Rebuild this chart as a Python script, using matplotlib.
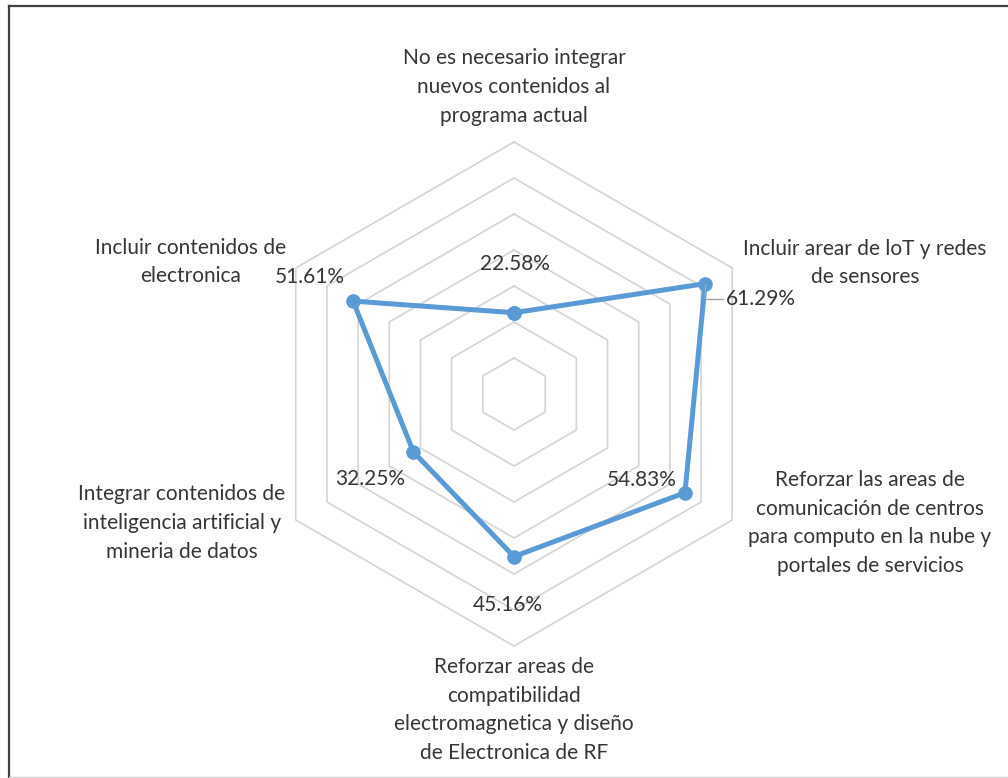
import numpy as np
import matplotlib.pyplot as plt
from matplotlib.lines import Line2D

# datos del grafico
categorias = ['No es necesario integrar\nnuevos contenidos al\nprograma actual',
              'Incluir arear de loT y redes\nde sensores',
              'Reforzar las areas de\ncomunicación de centros\npara computo en la nube y\nportales de servicios',
              'Reforzar areas de\ncompatibilidad\nelectromagnetica y diseño\nde Electronica de RF',
              'Integrar contenidos de\ninteligencia artificial y\nmineria de datos',
              'Incluir contenidos de\nelectronica']
valores = [22.58, 61.29, 54.83, 45.16, 32.25, 51.61]
etiquetas = ['22.58%', '61.29%', '54.83%', '45.16%', '32.25%', '51.61%']
anillos = [10, 20, 30, 40, 50, 60, 70]

plt.rcParams['font.family'] = ['Lato', 'DejaVu Sans']
W, H = 1008, 778
fig = plt.figure(figsize=(W / 100, H / 100), dpi=100)


def fx(px):
    return px / W


def fy(py):
    return 1 - py / H


cx, cy, R = 514, 394, 252
ax = fig.add_axes([fx(cx - R), fy(cy + R), 2 * R / W, 2 * R / H], projection='polar')
ax.set_theta_zero_location('N')
ax.set_theta_direction(-1)
ax.set_ylim(0, 70)
ax.axis('off')

ang = np.arange(len(valores)) * 2 * np.pi / len(valores)
ang_c = np.append(ang, ang[0])

# rejilla hexagonal
for r in anillos:
    ax.plot(ang_c, [r] * len(ang_c), color='#d4d4d4', lw=1.2, zorder=1, clip_on=False)

ax.plot(ang_c, valores + [valores[0]], color='#5b9bd5', lw=3.6, marker='o', ms=9.5,
        zorder=3, clip_on=False, solid_joinstyle='round')

col = '#363636'
fs = 15
paso = 28.8  # separacion entre lineas en pixeles
# etiquetas de categorias (centro en pixeles), linea por linea
pos_cat = [(514, 87), (865, 263), (870, 523), (514, 710), (182, 523), (191, 262)]
for t, (px, py) in zip(categorias, pos_cat):
    lineas = t.split('\n')
    y0 = py - paso * (len(lineas) - 1) / 2
    for k, ln in enumerate(lineas):
        fig.text(fx(px), fy(y0 + k * paso), ln, ha='center', va='center',
                 fontsize=fs, color=col)

# etiquetas de datos
pos_val = [(515, 264), (761, 299), (642, 480), (508, 605), (370, 479), (310, 277)]
for i, (t, (px, py)) in enumerate(zip(etiquetas, pos_val)):
    if i == 1:
        ax.annotate(t, xy=(ang[i], valores[i]), xytext=(fx(px), fy(py)),
                    textcoords='figure fraction', ha='center', va='center',
                    fontsize=fs, color=col,
                    arrowprops=dict(arrowstyle='-', color='#a6a6a6', lw=1,
                                    shrinkA=0, shrinkB=0,
                                    relpos=(0, 0.5),
                                    connectionstyle='angle,angleA=0,angleB=90,rad=0'))
    else:
        fig.text(fx(px), fy(py), t, ha='center', va='center', fontsize=fs, color=col)

# marco
fig.add_artist(Line2D([fx(9), fx(9)], [fy(6), 0], color='#404040', lw=1.6))
fig.add_artist(Line2D([fx(9), 1], [fy(6), fy(6)], color='#404040', lw=1.6))
fig.add_artist(Line2D([fx(9), 1], [fy(777), fy(777)], color='#d0d0d0', lw=1))

fig.savefig('out.png', dpi=100, facecolor='white')
